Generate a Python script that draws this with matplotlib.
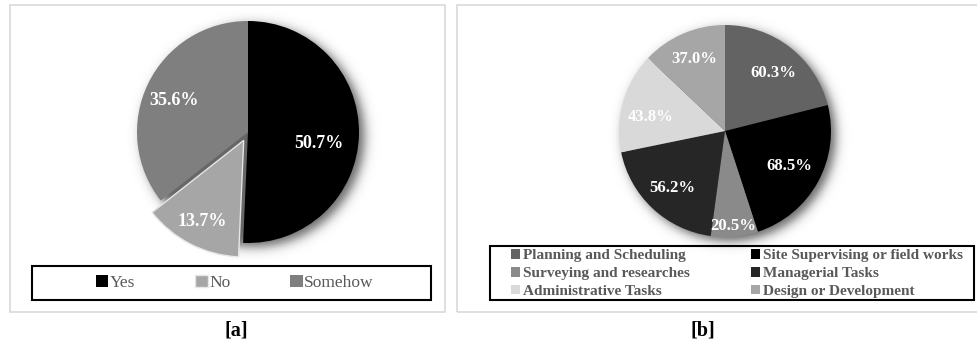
import matplotlib
matplotlib.use('Agg')
import matplotlib.pyplot as plt
from matplotlib.patches import Rectangle
import numpy as np

# [a] answers
a_labels = ['Yes', 'No', 'Somehow']
a_values = [50.7, 13.7, 35.6]
a_colors = ['#000000', '#a6a6a6', '#7f7f7f']

# [b] task types
b_labels = ['Planning and Scheduling', 'Site Supervising or field works',
            'Surveying and researches', 'Managerial Tasks',
            'Administrative Tasks', 'Design or Development']
b_values = [60.3, 68.5, 20.5, 56.2, 43.8, 37.0]
b_colors = ['#636363', '#000000', '#8a8a8a', '#262626', '#d9d9d9', '#a6a6a6']

W, H = 978, 344
SERIF = ['Liberation Serif', 'DejaVu Serif']


def fx(x):
    return x / W


def fy(y):
    return 1 - y / H


def pie_axes(fig, cx, cy, r, lim=1.3):
    half = r * lim
    ax = fig.add_axes([fx(cx - half), fy(cy + half), 2 * half / W, 2 * half / H])
    return ax


def add_shadow(ax, lim=1.3):
    # soft drop shadow down and to the right of the disc
    n = 500
    g = np.linspace(-lim, lim, n)
    xx, yy = np.meshgrid(g, g[::-1])
    d = np.hypot(xx - 0.045, yy + 0.04)
    alpha = 0.6 / (1 + np.exp((d - 1.0) / 0.03))
    img = np.zeros((n, n, 4))
    img[..., 3] = alpha
    ax.imshow(img, extent=(-lim, lim, -lim, lim), zorder=0, interpolation='bilinear')


def put_labels(ax, wedges, values, dists, turns, size):
    # percentage text inside each wedge, nudged along the arc by 'turns' degrees
    for w, v, d, t in zip(wedges, values, dists, turns):
        mid = np.deg2rad((w.theta1 + w.theta2) / 2 + t)
        x = w.center[0] + d * np.cos(mid)
        y = w.center[1] + d * np.sin(mid)
        ax.text(x, y, '{:.1f}%'.format(v), ha='center', va='center', color='white',
                fontsize=size, fontweight='bold', family=SERIF, zorder=5)


def main():
    fig = plt.figure(figsize=(W / 100, H / 100), dpi=100)
    fig.patch.set_facecolor('white')

    # panel frames
    for (x0, y0, x1, y1) in [(10, 5, 445, 312), (457, 5, 979, 312)]:
        fig.patches.append(Rectangle((fx(x0), fy(y1)), (x1 - x0) / W, (y1 - y0) / H,
                                     transform=fig.transFigure, fill=False,
                                     edgecolor='#d9d9d9', linewidth=1.2))
    # legend frames
    for (x0, y0, x1, y1) in [(32, 266, 431, 300), (490, 246, 974, 300)]:
        fig.patches.append(Rectangle((fx(x0), fy(y1)), (x1 - x0) / W, (y1 - y0) / H,
                                     transform=fig.transFigure, fill=False,
                                     edgecolor='black', linewidth=1.5))

    lim = 1.3

    # ---- [a]
    ax = pie_axes(fig, 248, 132, 111, lim)
    add_shadow(ax, lim)
    wedges_a, _ = ax.pie(a_values, colors=a_colors, startangle=90, counterclock=False,
                         explode=[0, 0.085, 0], wedgeprops=dict(linewidth=0))
    wedges_a[1].set_radius(1.05)
    wedges_a[1].set_edgecolor('#e6e6e6')
    wedges_a[1].set_linewidth(1.0)
    for w in wedges_a:
        w.set_zorder(2)
    ax.set_xlim(-lim, lim)
    ax.set_ylim(-lim, lim)
    ax.axis('off')
    put_labels(ax, wedges_a, a_values, [0.65, 0.82, 0.72], [-8, 0, 3], 13)

    fig.legend(wedges_a, a_labels, loc='center', bbox_to_anchor=(fx(235), fy(283)),
               ncol=3, frameon=False, handlelength=0.7, handleheight=0.7,
               handletextpad=0.1, columnspacing=3.45,
               prop=dict(family=SERIF, size=12.5), labelcolor='#595959')

    # ---- [b]
    ax = pie_axes(fig, 725, 131, 106, lim)
    add_shadow(ax, lim)
    wedges_b, _ = ax.pie(b_values, colors=b_colors, startangle=90, counterclock=False,
                         wedgeprops=dict(linewidth=0))
    for w in wedges_b:
        w.set_zorder(2)
    ax.set_xlim(-lim, lim)
    ax.set_ylim(-lim, lim)
    ax.axis('off')
    put_labels(ax, wedges_b, b_values, [0.71, 0.69, 0.90, 0.73, 0.71, 0.74],
               [-2, 0, 0, 0, 5, 0], 12)

    # row-major order in a two column legend
    order = [0, 2, 4, 1, 3, 5]
    fig.legend([wedges_b[i] for i in order], [b_labels[i] for i in order],
               loc='center', bbox_to_anchor=(fx(737), fy(273.5)),
               ncol=2, frameon=False, handlelength=0.6, handleheight=0.6,
               handletextpad=0.2, columnspacing=3.95, labelspacing=0.3,
               prop=dict(family=SERIF, size=11, weight='bold'), labelcolor='#595959')

    # panel tags
    fig.text(fx(236), fy(331), '[a]', ha='center', va='center', fontsize=14.5,
             fontweight='bold', family=SERIF)
    fig.text(fx(703), fy(331), '[b]', ha='center', va='center', fontsize=14.5,
             fontweight='bold', family=SERIF)

    fig.savefig('out.png', dpi=100)


if __name__ == '__main__':
    main()
